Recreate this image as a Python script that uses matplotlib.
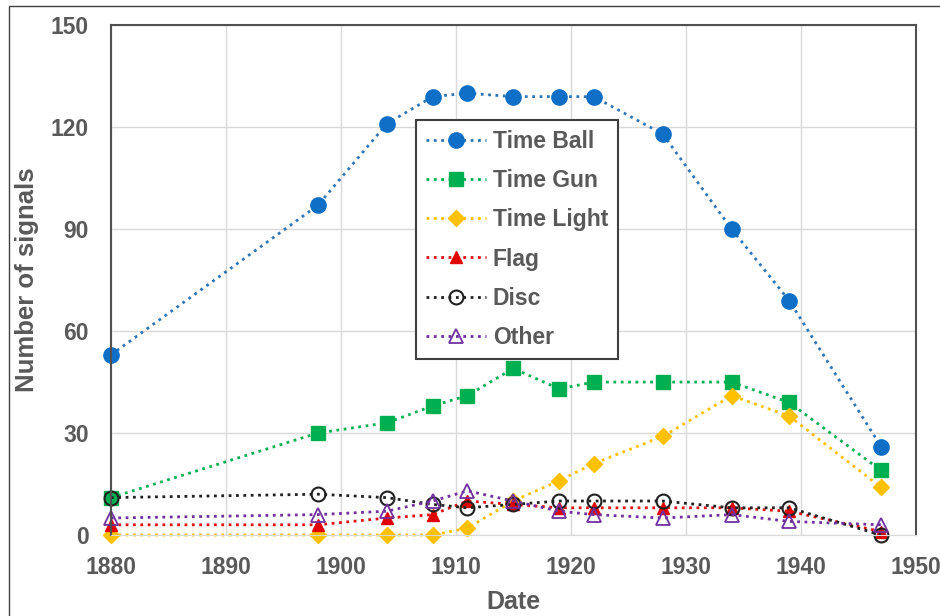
import matplotlib
matplotlib.use('Agg')
import matplotlib.pyplot as plt
from matplotlib.patches import Rectangle

plt.rcParams['font.family'] = ['Liberation Sans', 'DejaVu Sans']
plt.rcParams['font.weight'] = 'bold'

years = [1880, 1898, 1904, 1908, 1911, 1915, 1919, 1922, 1928, 1934, 1939, 1947]
time_ball = [53, 97, 121, 129, 130, 129, 129, 129, 118, 90, 69, 26]
time_gun = [11, 30, 33, 38, 41, 49, 43, 45, 45, 45, 39, 19]
time_light = [0, 0, 0, 0, 2, 10, 16, 21, 29, 41, 35, 14]
flag = [3, 3, 5, 6, 10, 9, 8, 8, 8, 8, 7, 1]
disc = [11, 12, 11, 9, 8, 9, 10, 10, 10, 8, 8, 0]
other = [5, 6, 7, 10, 13, 10, 7, 6, 5, 6, 4, 3]

x_ticks = [1880, 1890, 1900, 1910, 1920, 1930, 1940, 1950]
y_ticks = [0, 30, 60, 90, 120, 150]

grey = '#595959'

fig = plt.figure(figsize=(9.4, 6.16), dpi=100)
ax = fig.add_axes([0.118, 0.1315, 0.856, 0.8275])

series = [
    ('Time Ball', time_ball, dict(color='#2E75B6', marker='o', ms=11, mfc='#0F6FC6', mec='#0F6FC6')),
    ('Time Gun', time_gun, dict(color='#00B050', marker='s', ms=10, mfc='#00B050', mec='#00B050')),
    ('Time Light', time_light, dict(color='#FFC000', marker='D', ms=8, mfc='#FFC000', mec='#FFC000')),
    ('Flag', flag, dict(color='#E01010', marker='^', ms=9, mfc='#E00000', mec='#E00000')),
    ('Disc', disc, dict(color='#202020', marker='o', ms=10, mfc='none', mec='#202020', mew=1.5)),
    ('Other', other, dict(color='#7030A0', marker='^', ms=10, mfc='none', mec='#7030A0', mew=1.3)),
]
for name, vals, style in series:
    ax.plot(years, vals, linestyle=':', lw=2, label=name, clip_on=False, **style)

ax.set_xlim(1880, 1950)
ax.set_ylim(0, 150)
ax.set_xticks(x_ticks)
ax.set_yticks(y_ticks)
ax.tick_params(length=0, labelsize=16.5, labelcolor=grey)
ax.tick_params(axis='x', pad=15)
ax.tick_params(axis='y', pad=16)
ax.grid(True, color='#D9D9D9', lw=1)
ax.set_axisbelow(True)
for side in ['left', 'top', 'right']:
    ax.spines[side].set_color('#505050')
    ax.spines[side].set_linewidth(1.5)
ax.spines['bottom'].set_color('#D9D9D9')

ax.set_xlabel('Date', fontsize=18, fontweight='bold', color=grey, labelpad=8)
ax.set_ylabel('Number of signals', fontsize=18.5, fontweight='bold', color=grey, labelpad=8)

leg = ax.legend(loc='upper left', bbox_to_anchor=(0.379, 0.814), fontsize=16.5,
                frameon=True, fancybox=False, framealpha=1, edgecolor='#404040',
                handlelength=2.6, handletextpad=0.3, labelspacing=0.7,
                borderpad=0.45, borderaxespad=0)
leg.get_frame().set_linewidth(1.5)
for t in leg.get_texts():
    t.set_color(grey)

fig.patches.append(Rectangle((9 / 940, -0.1), 1.2, 1.09 + 0.0001, transform=fig.transFigure,
                             fill=False, edgecolor='#404040', lw=1, clip_on=False))

fig.savefig('out.png', dpi=100)
